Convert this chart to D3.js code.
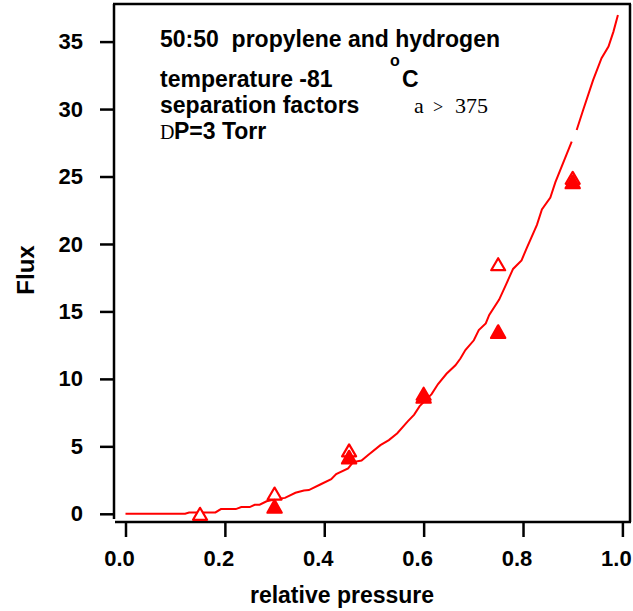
<!DOCTYPE html>
<html>
<head>
<meta charset="utf-8">
<script src="https://cdn.jsdelivr.net/npm/d3@7"></script>
<style>
  body { margin: 0; background: #fff; }
  svg { display: block; }
  text { font-family: "Liberation Sans", Arial, sans-serif; font-weight: bold; font-size: 23px; fill: #000; }
  .serif { font-family: "Liberation Serif", "Times New Roman", serif; font-weight: normal; }
</style>
</head>
<body>
<svg id="chart" width="633" height="611"></svg>
<script>
// fitted curve (relative pressure, flux); null marks the break in the line
const curveX = [0.0, 0.12, 0.128, 0.181, 0.192, 0.222, 0.233, 0.25, 0.26, 0.27, 0.284, 0.304, 0.321, 0.342,
  0.359, 0.369, 0.393, 0.414, 0.424, 0.448, 0.458, 0.475, 0.489, 0.513, 0.53, 0.547, 0.568, 0.581, 0.592,
  0.616, 0.629, 0.646, 0.664, 0.674, 0.684, 0.701, 0.711, 0.725, 0.732, 0.752, 0.766, 0.78, 0.797, 0.807,
  0.828, 0.838, 0.855, 0.865, 0.898, 0.903, 0.908, 0.921, 0.941, 0.958, 0.972, 0.982, 0.991];
const curveY = [0, 0, 0.1, 0.1, 0.35, 0.35, 0.5, 0.5, 0.67, 0.67, 0.93, 1.1, 1.18, 1.56,
  1.73, 1.76, 2.19, 2.56, 2.94, 3.37, 3.83, 3.95, 4.38, 5.09, 5.46, 5.97, 6.85, 7.35, 7.98,
  8.87, 9.62, 10.38, 11.01, 11.51, 12.14, 12.86, 13.62, 14.11, 14.74, 15.88, 17.01, 18.15, 18.78, 19.66,
  21.42, 22.56, 23.44, 24.57, 27.58, null, 28.45, 29.93, 32.14, 33.77, 34.63, 35.74, 36.97];

// measured points
const pressure = [0.15, 0.3, 0.45, 0.6, 0.75, 0.9];
const fluxOpen = [0, 1.5, 4.7, 8.9, 18.5, 24.9];
const fluxFilled = [null, 0.55, 4.2, 8.7, 13.5, 24.6];

const xTicks = [0, 0.2, 0.4, 0.6, 0.8, 1.0];
const yTicks = [0, 5, 10, 15, 20, 25, 30, 35];

const svg = d3.select('#chart');
const frameL = 114, frameR = 630, frameT = 4, frameB = 522;

const x = d3.scaleLinear().domain([0, 1]).range([125.5, 622.4]);
const y = d3.scaleLinear().domain([0, 35]).range([513.8, 41.6]);

// axes
const yAxis = svg.append('g')
  .attr('transform', `translate(${frameL},0)`)
  .call(d3.axisLeft(y).tickValues(yTicks).tickSize(14).tickPadding(17));

const xAxis = svg.append('g')
  .attr('transform', `translate(0,${frameB})`)
  .call(d3.axisBottom(x).tickValues(xTicks).tickSize(15).tickPadding(13).tickFormat(d3.format('.1f')));

[yAxis, xAxis].forEach(a => {
  a.select('.domain').remove();
  a.selectAll('.tick line').attr('stroke', '#000').attr('stroke-width', 2.5);
  a.selectAll('.tick text').attr('fill', '#000').style('font-size', '22px')
    .style('font-family', '"Liberation Sans", Arial, sans-serif').style('font-weight', 'bold');
});
// bottom labels sit a little left of their ticks
xAxis.selectAll('.tick text').attr('dx', -6.5);

// frame
const frame = svg.append('g').attr('stroke', '#000').attr('stroke-width', 2.5).attr('fill', 'none');
frame.append('line').attr('x1', frameL).attr('x2', frameL).attr('y1', frameT).attr('y2', frameB - 3);
frame.append('line').attr('x1', frameL + 1).attr('x2', frameR + 1).attr('y1', frameB).attr('y2', frameB);
frame.append('line').attr('x1', frameR).attr('x2', frameR).attr('y1', frameT).attr('y2', frameB);
frame.append('line').attr('x1', frameL - 1).attr('x2', frameR + 1).attr('y1', frameT).attr('y2', frameT);

// curve
const curve = curveX.map((d, i) => [d, curveY[i]]);
svg.append('path')
  .datum(curve)
  .attr('fill', 'none')
  .attr('stroke', '#ff0000')
  .attr('stroke-width', 2)
  .attr('d', d3.line()
    .defined(d => d[1] !== null)
    .x(d => x(d[0]))
    .y(d => y(d[1])));

// markers
const tri = (w, h) => `M0,${-h / 2}L${w / 2},${h / 2}L${-w / 2},${h / 2}Z`;

svg.append('g')
  .selectAll('path')
  .data(pressure.map((p, i) => [p, fluxOpen[i]]).filter(d => d[1] !== null))
  .join('path')
  .attr('transform', d => `translate(${x(d[0])},${y(d[1])})`)
  .attr('d', tri(14, 12))
  .attr('fill', '#fff')
  .attr('stroke', '#ff0000')
  .attr('stroke-width', 2.2)
  .attr('stroke-linejoin', 'round');

svg.append('g')
  .selectAll('path')
  .data(pressure.map((p, i) => [p, fluxFilled[i]]).filter(d => d[1] !== null))
  .join('path')
  .attr('transform', d => `translate(${x(d[0])},${y(d[1])})`)
  .attr('d', tri(14, 12.5))
  .attr('fill', '#ff0000')
  .attr('stroke', '#ff0000')
  .attr('stroke-width', 2.4)
  .attr('stroke-linejoin', 'round');

// titles
svg.append('text')
  .attr('x', 342).attr('y', 603)
  .attr('text-anchor', 'middle')
  .text('relative pressure');

svg.append('text')
  .attr('transform', 'translate(34,270) rotate(-90)')
  .attr('text-anchor', 'middle')
  .style('font-size', '24px')
  .text('Flux');

// annotations
svg.append('text').attr('x', 160).attr('y', 47).style('white-space', 'pre')
  .text('50:50  propylene and hydrogen');
svg.append('text').attr('x', 160).attr('y', 87).text('temperature -81');
svg.append('text').attr('x', 390).attr('y', 66).style('font-size', '16px').text('o');
svg.append('text').attr('x', 402).attr('y', 87).text('C');
svg.append('text').attr('x', 160).attr('y', 113).text('separation factors');

const alpha = svg.append('text').attr('y', 113).attr('class', 'serif').style('font-size', '22px');
alpha.append('tspan').attr('x', 414).text('a');
alpha.append('tspan').attr('x', 433).style('font-size', '18px').text('>');
alpha.append('tspan').attr('x', 455).text('375');

svg.append('text').attr('x', 160).attr('y', 139).attr('class', 'serif').style('font-size', '20px').text('D');
svg.append('text').attr('x', 174).attr('y', 139).text('P=3 Torr');
</script>
</body>
</html>
